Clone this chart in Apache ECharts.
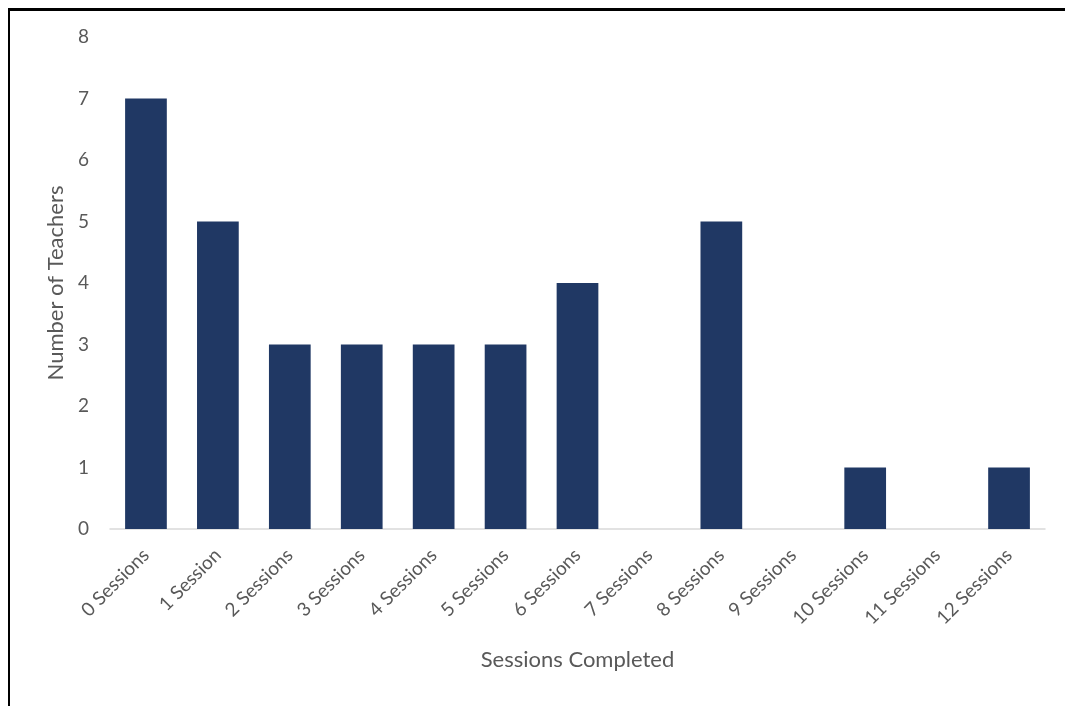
<!DOCTYPE html>
<html>
<head>
<meta charset="utf-8">
<script src="https://cdn.jsdelivr.net/npm/echarts@6/dist/echarts.min.js"></script>
<style>
  html, body { margin: 0; padding: 0; background: #fff; }
  #frame {
    position: absolute; left: 8px; top: 8px; width: 1057px; height: 698px;
    border-left: 2px solid #000; border-top: 3px solid #000;
  }
  #echart { position: absolute; left: 0; top: 0; width: 1065px; height: 706px; }
</style>
</head>
<body>
<div id="frame"></div>
<div id="echart"></div>
<script>
var categories = ['0 Sessions', '1 Session', '2 Sessions', '3 Sessions', '4 Sessions', '5 Sessions',
  '6 Sessions', '7 Sessions', '8 Sessions', '9 Sessions', '10 Sessions', '11 Sessions', '12 Sessions'];
var teachers = [7, 5, 3, 3, 3, 3, 4, 0, 5, 0, 1, 0, 1];

var myChart = echarts.init(document.getElementById('echart'));
var font = 'Lato, sans-serif';

var option = {
  animation: false,
  grid: { left: 110, right: 20, top: 37, bottom: 177 },
  xAxis: {
    type: 'category',
    data: categories,
    name: 'Sessions Completed',
    nameLocation: 'middle',
    nameGap: 120,
    nameTextStyle: { color: '#595959', fontSize: 22, fontFamily: font },
    axisLine: { lineStyle: { color: '#d9d9d9', width: 1.5 } },
    axisTick: { show: false },
    axisLabel: { rotate: 45, color: '#595959', fontSize: 19, fontFamily: font, margin: 23, interval: 0 }
  },
  yAxis: {
    type: 'value',
    min: 0, max: 8, interval: 1,
    name: 'Number of Teachers',
    nameLocation: 'middle',
    nameGap: 41,
    nameTextStyle: { color: '#595959', fontSize: 22, fontFamily: font },
    splitLine: { show: false },
    axisLine: { show: false },
    axisLabel: { color: '#595959', fontSize: 19, fontFamily: font, margin: 21 }
  },
  series: [{
    type: 'bar',
    data: teachers,
    barCategoryGap: '42%',
    itemStyle: { color: '#203864' }
  }]
};

myChart.setOption(option);
</script>
</body>
</html>
